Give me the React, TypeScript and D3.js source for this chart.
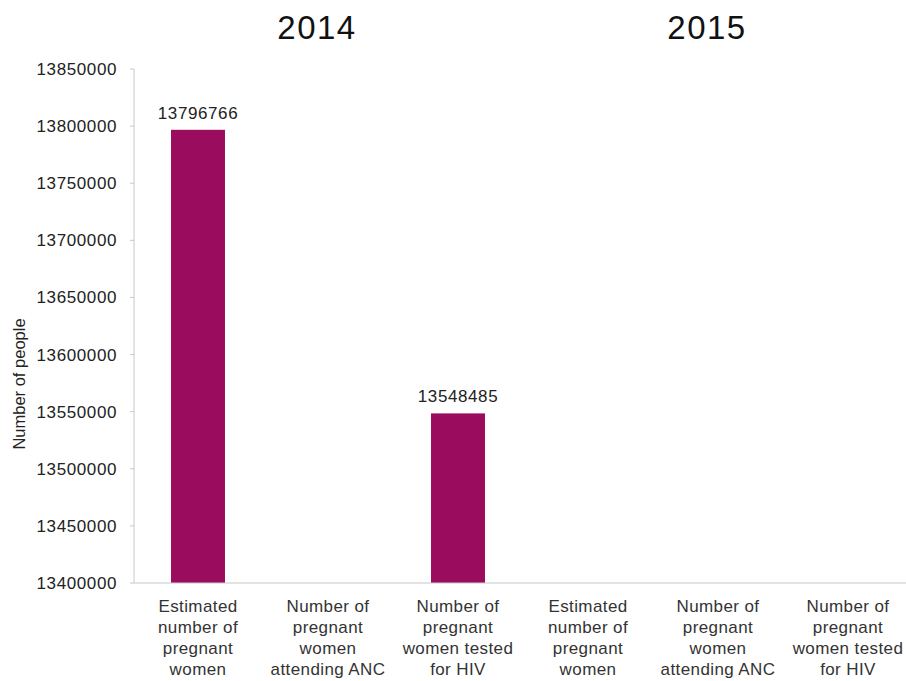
import React from "react";
import * as d3 from "d3";

// Chart data
const years = ["2014", "2015"];
const indicators = [
  ["Estimated", "number of", "pregnant", "women"],
  ["Number of", "pregnant", "women", "attending ANC"],
  ["Number of", "pregnant", "women tested", "for HIV"],
];
const values2014: (number | null)[] = [13796766, null, 13548485];
const values2015: (number | null)[] = [null, null, null];
const yTicks = [13400000, 13450000, 13500000, 13550000, 13600000, 13650000, 13700000, 13750000, 13800000, 13850000];

const W = 906;
const H = 681;
const barColor = "#990c5e";

export default function App() {
  const left = 134;
  const top = 69;
  const bottom = 583;
  const step = 130;

  const categories = years.flatMap((y) => indicators.map((_, i) => `${y}-${i}`));
  const values = [...values2014, ...values2015];
  const labels = [...indicators, ...indicators];

  const x = d3.scaleBand<string>().domain(categories).range([left - 1, left - 1 + step * categories.length]).padding(0);
  const y = d3.scaleLinear().domain([13400000, 13850000]).range([bottom, top]);
  const barW = x.bandwidth() * 0.415;

  const font = "Arial, 'Liberation Sans', sans-serif";

  return (
    <svg width={W} height={H} style={{ position: "absolute", left: 0, top: 0, background: "#fff" }}>
      {/* year headings, centred a little left of each group of three */}
      {years.map((yr, gi) => {
        const g0 = x(categories[gi * 3])!;
        const g1 = x(categories[gi * 3 + 2])! + x.bandwidth();
        return (
          <text key={yr} x={(g0 + g1) / 2 - 11} y={39} fontSize={33} letterSpacing={1.5} fontFamily={font} fill="#111" textAnchor="middle">
            {yr}
          </text>
        );
      })}

      {/* y axis */}
      <line x1={left} x2={left} y1={top} y2={bottom} stroke="#c8c8c8" strokeWidth={1} />
      {yTicks.map((t) => (
        <g key={t}>
          <line x1={left - 4} x2={left} y1={y(t)} y2={y(t)} stroke="#c8c8c8" />
          <text x={117} y={y(t) + 6} fontSize={17} letterSpacing={0.6} fontFamily={font} fill="#222" textAnchor="end">
            {t}
          </text>
        </g>
      ))}
      <text
        transform={`translate(25,384) rotate(-90)`}
        fontSize={16.5}
        fontFamily={font}
        fill="#222"
        textAnchor="middle"
      >
        Number of people
      </text>

      {/* bars */}
      {values.map((v, i) => {
        if (v == null) return null;
        const cx = x(categories[i])! + x.bandwidth() / 2;
        return (
          <g key={categories[i]}>
            <rect x={cx - barW / 2} y={y(v)} width={barW} height={bottom - y(v)} fill={barColor} />
            <text x={cx} y={y(v) - 11} fontSize={17} letterSpacing={0.6} fontFamily={font} fill="#222" textAnchor="middle">
              {v}
            </text>
          </g>
        );
      })}

      {/* baseline */}
      <line x1={left} x2={W} y1={bottom} y2={bottom} stroke="#c8c8c8" strokeWidth={1.2} />

      {/* category labels */}
      {labels.map((lines, i) => {
        const cx = x(categories[i])! + x.bandwidth() / 2;
        return (
          <text key={categories[i]} x={cx} y={612} fontSize={17} letterSpacing={0.4} fontFamily={font} fill="#333" textAnchor="middle">
            {lines.map((l, k) => (
              <tspan key={k} x={cx} dy={k === 0 ? 0 : 21}>
                {l}
              </tspan>
            ))}
          </text>
        );
      })}
    </svg>
  );
}
